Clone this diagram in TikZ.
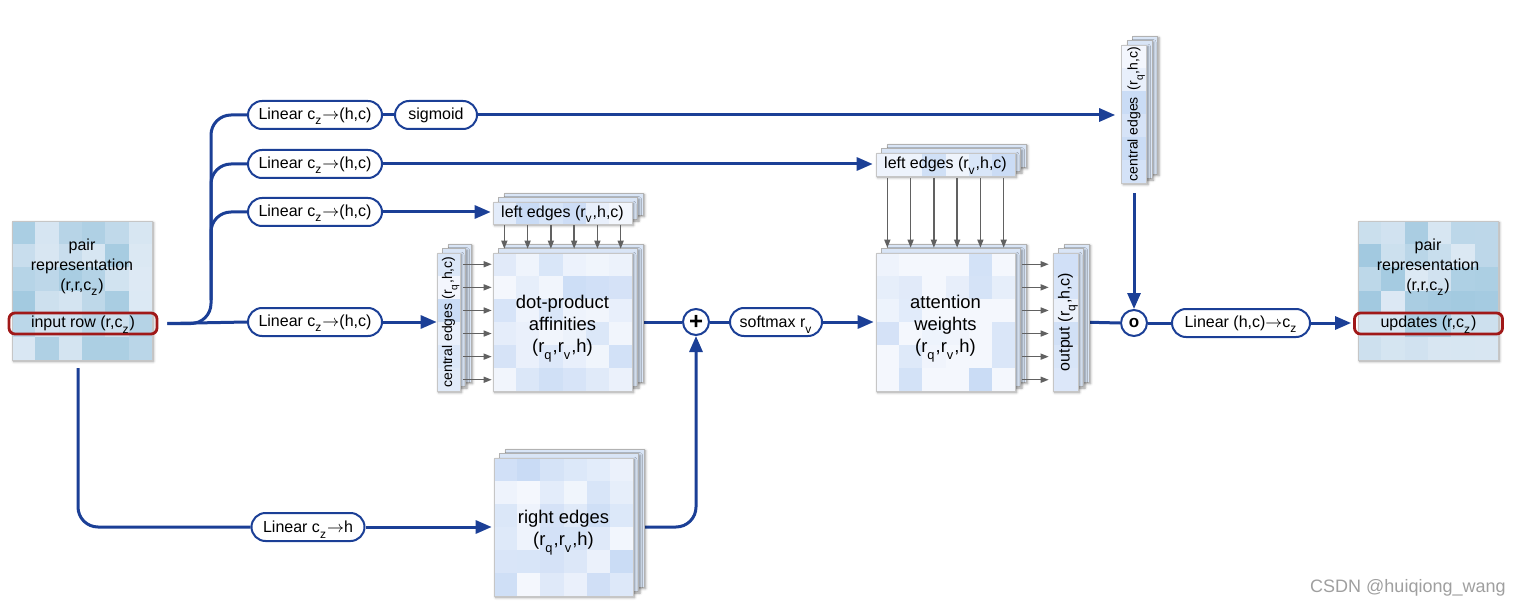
\documentclass[tikz,border=0pt]{standalone}
\usepackage{fontspec}
\setmainfont{Liberation Sans}
\usetikzlibrary{arrows.meta,shadows.blur,backgrounds,calc}

\definecolor{navy}{HTML}{1B3F96}
\definecolor{rowred}{HTML}{A01818}
\definecolor{pairdark}{HTML}{A0C8DF}
\definecolor{pairlight}{HTML}{DDE9F4}
\definecolor{celldark}{HTML}{C9DBF5}
\definecolor{celllight}{HTML}{F4F7FD}
\definecolor{backfill}{HTML}{D9E5F6}

\newcommand{\sbs}[1]{\raisebox{-0.45ex}[0pt][0pt]{\textsubscript{#1}}}
\newcommand{\rarr}{\ensuremath{\rightarrow}}

\newcommand{\cellgrid}[9]{%
  \pgfmathsetmacro\gxa{#1}\pgfmathsetmacro\gya{#2}%
  \pgfmathsetmacro\gw{(#3-#1)/#5}\pgfmathsetmacro\gh{(#4-#2)/#6}%
  \pgfmathtruncatemacro\gnx{#5-1}\pgfmathtruncatemacro\gny{#6-1}%
  \foreach \i in {0,...,\gnx}{\foreach \j in {0,...,\gny}{%
    \pgfmathtruncatemacro\p{100*rnd^#9}%
    \fill[#7!\p!#8] ({\gxa+\i*\gw},{\gya+\j*\gh}) rectangle ({\gxa+(\i+1)*\gw},{\gya+(\j+1)*\gh});
  }}}

\newcommand{\stackbase}[4]{%
  \filldraw[backbox] ({#1+11},{#2-9}) rectangle ({#3+11},{#4-9});
  \filldraw[backbox] ({#1+5.5},{#2-4.5}) rectangle ({#3+5.5},{#4-4.5});
  \fill[white,shadowed] (#1,#2) rectangle (#3,#4);}

\tikzset{
  every node/.style={font=\fontsize{8pt}{10pt}\selectfont, text=black},
  conn/.style={draw=navy, line width=1.5pt},
  arr/.style={conn, -{Triangle[length=8pt,width=6.5pt]}},
  gar/.style={draw=black!62, line width=0.65pt, -{Triangle[length=4pt,width=3pt]}},
  pill/.style={draw=navy, line width=1pt, fill=white, rounded corners=7pt, minimum height=14pt, inner sep=0pt},
  frontbox/.style={draw=gray!45, line width=0.3pt, inner sep=0pt, align=center},
  bigtxt/.style={align=center, inner sep=0pt, font=\fontsize{9.2pt}{11pt}\selectfont},
  shadowed/.style={blur shadow={shadow xshift=0.8pt, shadow yshift=-0.8pt, shadow blur radius=1.2pt, shadow opacity=40}},
  backbox/.style={fill=backfill, draw=gray!60, line width=0.3pt, shadowed},
  redrow/.style={draw=rowred, line width=1.4pt, rounded corners=3pt, inner sep=0pt, minimum height=10.5pt, minimum width=74pt},
  opcirc/.style={circle, draw=navy, line width=1pt, fill=white, minimum size=13pt, inner sep=0pt},
  rottxt/.style={rotate=90, inner sep=0pt, font=\fontsize{7pt}{8pt}\selectfont},
  txt/.style={align=center, inner sep=0pt},
}

\begin{document}
\begin{tikzpicture}[x=0.5pt,y=-0.5pt]
\pgfmathsetseed{17}
\useasboundingbox (0,0) rectangle (1519,609);

% ---------- left pair representation
\fill[white,shadowed] (12,221) rectangle (152,360);
\cellgrid{12}{221}{152}{360}{6}{6}{pairdark}{pairlight}{1}
\node[frontbox, minimum width=70pt, minimum height=69.5pt] (pairL) at (82,290.5) {};
\node[txt] (pairLt) at (82,266) {pair\\representation\\(r,r,c\sbs{z})};
\node[redrow] (inrow) at (83,323.5) {input row (r,c\sbs{z})};

% ---------- right pair representation
\fill[white,shadowed] (1358,221) rectangle (1498,360);
\cellgrid{1358}{221}{1498}{360}{6}{6}{pairdark}{pairlight}{1}
\node[frontbox, minimum width=70pt, minimum height=69.5pt] (pairR) at (1428,290.5) {};
\node[txt] (pairRt) at (1428,266) {pair\\representation\\(r,r,c\sbs{z})};
\node[redrow] (upd) at (1428.5,323.5) {updates (r,c\sbs{z})};

% ---------- top right central edges
\stackbase{1121.5}{45}{1146.5}{183}
\cellgrid{1121.5}{45}{1146.5}{183}{1}{6}{celldark}{celllight}{1}
\node[frontbox, minimum width=12.5pt, minimum height=69pt] (ceTR) at (1134,114) {};
\node[rottxt] (ceTRt) at (1134,114) {central edges\hspace{0.5em}(r\sbs{q},h,c)};

% ---------- attention branch
\stackbase{876}{153}{1015}{176}
\cellgrid{876}{153}{1015}{176}{6}{1}{celldark}{celllight}{1}
\node[frontbox, minimum width=69.5pt, minimum height=11.5pt] (leA) at (945.5,164.5) {left edges (r\sbs{v},h,c)};

\stackbase{876}{253}{1015}{391}
\cellgrid{876}{253}{1015}{391}{6}{6}{celldark}{celllight}{5}
\node[frontbox, minimum width=69.5pt, minimum height=69pt] (att) at (945.5,322) {};
\node[bigtxt] (attt) at (945.5,326) {attention\\weights\\(r\sbs{q},r\sbs{v},h)};

\stackbase{1053}{253}{1078}{391}
\cellgrid{1053}{253}{1078}{391}{1}{6}{celldark}{celllight}{1}
\node[frontbox, minimum width=12.5pt, minimum height=69pt] (out) at (1065.5,322) {};
\node[rottxt, font=\fontsize{8pt}{9pt}\selectfont] (outt) at (1065.5,322) {output (r\sbs{q},h,c)};

% ---------- dot product branch
\stackbase{493}{202}{632}{224}
\cellgrid{493}{202}{632}{224}{6}{1}{celldark}{celllight}{1}
\node[frontbox, minimum width=69.5pt, minimum height=11pt] (leD) at (562.5,213) {left edges (r\sbs{v},h,c)};

\stackbase{493}{253}{632}{391}
\cellgrid{493}{253}{632}{391}{6}{6}{celldark}{celllight}{1.5}
\node[frontbox, minimum width=69.5pt, minimum height=69pt] (dp) at (562.5,322) {};
\node[bigtxt] (dpt) at (562.5,326) {dot-product\\affinities\\(r\sbs{q},r\sbs{v},h)};

\stackbase{437}{253}{460}{391}
\cellgrid{437}{253}{460}{391}{1}{6}{celldark}{celllight}{1}
\node[frontbox, minimum width=11.5pt, minimum height=69pt] (ceD) at (448.5,322) {};
\node[rottxt] (ceDt) at (448.5,322) {central edges (r\sbs{q},h,c)};

% ---------- right edges
\stackbase{494}{458}{633}{596}
\cellgrid{494}{458}{633}{596}{6}{6}{celldark}{celllight}{1.5}
\node[frontbox, minimum width=69.5pt, minimum height=69pt] (re) at (563.5,527) {};
\node[bigtxt] (ret) at (563.5,530) {right edges\\(r\sbs{q},r\sbs{v},h)};

% ---------- pills and operators
\node[pill, minimum width=67pt] (linA) at (315,115) {Linear c\sbs{z}\rarr(h,c)};
\node[pill, minimum width=41pt] (sig) at (436,115) {sigmoid};
\node[pill, minimum width=67pt] (linB) at (315,164) {Linear c\sbs{z}\rarr(h,c)};
\node[pill, minimum width=67pt] (linC) at (315,212) {Linear c\sbs{z}\rarr(h,c)};
\node[pill, minimum width=67pt] (linD) at (315,322) {Linear c\sbs{z}\rarr(h,c)};
\node[pill, minimum width=56.5pt] (linE) at (308,527) {Linear c\sbs{z}\rarr h};
\node[pill, minimum width=46pt] (soft) at (776,322) {softmax r\sbs{v}};
\node[pill, minimum width=69pt] (linF) at (1241,323) {Linear (h,c)\rarr c\sbs{z}};
\node[opcirc, font=\fontsize{12pt}{12pt}\selectfont\bfseries] (plus) at (696,322) {+};
\node[opcirc, font=\fontsize{8.5pt}{9pt}\selectfont\bfseries] (odot) at (1134,323) {o};

\coordinate (start) at ($(inrow.east)+(9,0)$);
\coordinate (b0) at (78,368);

% ---------- connectors (behind)
\begin{pgfonlayer}{background}
\draw[conn] (start) -- (linD.west);
\draw[conn, rounded corners=10pt] (start) -| (211,200) |- (linA.west);
\draw[conn, rounded corners=10pt] (211,260) |- (linB.west);
\draw[conn, rounded corners=10pt] (211,300) |- (linC.west);
\draw[conn] (linA.east) -- (sig.west);
\draw[arr, shorten >=3pt] (sig.east) -- (sig.east -| ceTR.west);
\draw[arr, shorten >=1.5pt] (linB.east) -- (linB.east -| leA.west);
\draw[arr, shorten >=1pt] (linC.east) -- (linC.east -| leD.west);
\draw[arr] (linD.east) -- (linD.east -| ceD.west);
\draw[conn, rounded corners=10pt] (b0) |- (linE.west);
\draw[arr, shorten >=1pt] (linE.east) -- (linE.east -| re.west);
\draw[arr, rounded corners=10pt] (re.east) -| (plus.south);
\draw[conn] (dp.east) -- (plus.west);
\draw[conn] (plus.east) -- (soft.west);
\draw[arr, shorten >=1pt] (soft.east) -- (soft.east -| att.west);
\draw[conn] (out.east) -- (odot.west);
\draw[arr, shorten <=5pt] (ceTR.south) -- (odot.north);
\draw[conn] (odot.east) -- (linF.west);
\draw[arr, shorten >=1pt] (linF.east) -- (linF.east -| upd.west);
\end{pgfonlayer}

% ---------- grey broadcast arrows
\foreach \k in {0,...,5}{
  \draw[gar] ($(leD.south west)!{(\k+0.5)/6}!(leD.south east)+(0,1)$) -- ($(dp.north west)!{(\k+0.5)/6}!(dp.north east)+(0,-4)$);
  \draw[gar] ($(ceD.north east)!{(\k+0.5)/6}!(ceD.south east)+(3,0)$) -- ($(dp.north west)!{(\k+0.5)/6}!(dp.south west)+(-1,0)$);
  \draw[gar] ($(leA.south west)!{(\k+0.5)/6}!(leA.south east)+(0,2)$) -- ($(att.north west)!{(\k+0.5)/6}!(att.north east)+(0,-5)$);
  \draw[gar] ($(att.north east)!{(\k+0.5)/6}!(att.south east)+(7,0)$) -- ($(out.north west)!{(\k+0.5)/6}!(out.south west)+(-4,0)$);
}

\node[text=gray!75, font=\fontsize{9pt}{10pt}\selectfont, anchor=east, inner sep=0pt] (wm) at (1506,588) {CSDN @huiqiong\_wang};
\end{tikzpicture}
\end{document}
